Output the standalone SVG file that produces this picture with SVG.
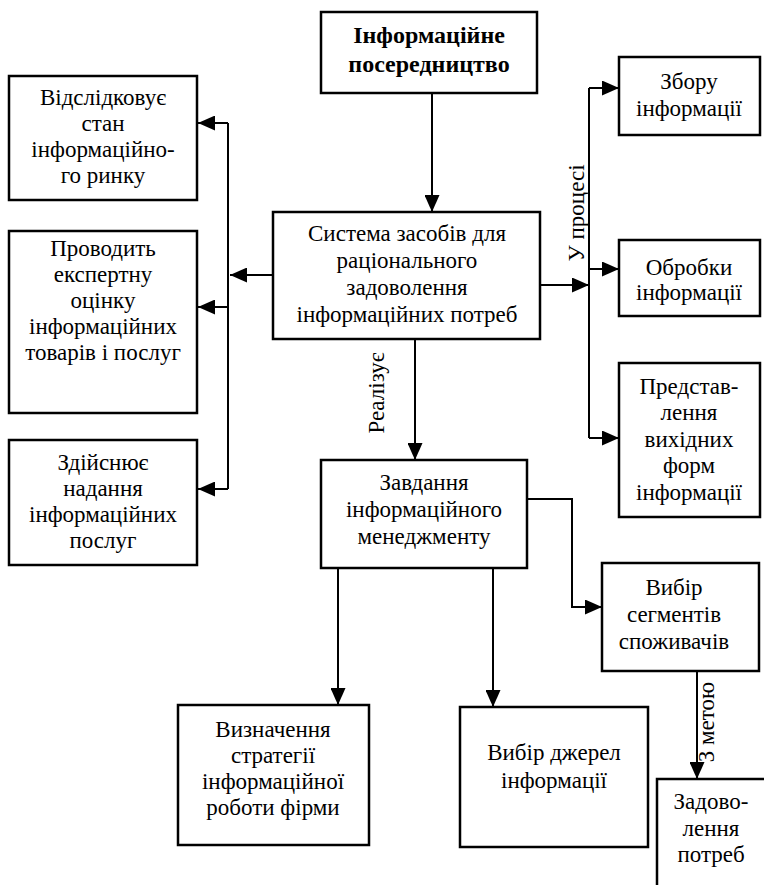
<svg xmlns="http://www.w3.org/2000/svg" width="764" height="885" viewBox="0 0 764 885">
<style>
.box{fill:#fff;stroke:#000;stroke-width:2.5}
.t{font-family:'Liberation Serif','DejaVu Serif',serif;font-size:23px;fill:#000;text-anchor:middle}
.b{font-weight:bold;font-size:24px}
.c{fill:none;stroke:#000;stroke-width:2}
</style>
<defs>
<marker id="ah" markerUnits="userSpaceOnUse" markerWidth="17" markerHeight="15" refX="17" refY="7.5" orient="auto">
<path d="M0,0 L17,7.5 L0,15 z" fill="#000"/>
</marker>
</defs>
<rect width="764" height="885" fill="#fff"/>
<g id="connectors">
<path class="c" d="M432,93 V212" marker-end="url(#ah)"/>
<path class="c" d="M273,275 H230" marker-end="url(#ah)"/>
<path class="c" d="M228,123 V489"/>
<path class="c" d="M228,123 H198" marker-end="url(#ah)"/>
<path class="c" d="M228,307 H198" marker-end="url(#ah)"/>
<path class="c" d="M228,489 H198" marker-end="url(#ah)"/>
<path class="c" d="M540,285 H589" marker-end="url(#ah)"/>
<path class="c" d="M589,88 V438"/>
<path class="c" d="M589,88 H619" marker-end="url(#ah)"/>
<path class="c" d="M589,269 H619" marker-end="url(#ah)"/>
<path class="c" d="M589,438 H619" marker-end="url(#ah)"/>
<path class="c" d="M415,339 V460" marker-end="url(#ah)"/>
<path class="c" d="M527,499 H572 V607 H602" marker-end="url(#ah)"/>
<path class="c" d="M338,568 V705" marker-end="url(#ah)"/>
<path class="c" d="M493,568 V707" marker-end="url(#ah)"/>
<path class="c" d="M697,671 V779" marker-end="url(#ah)"/>
<text class="t" transform="translate(584,213) rotate(-90)">У процесі</text>
<text class="t" transform="translate(384,393) rotate(-90)">Реалізує</text>
<text class="t" transform="translate(714,722) rotate(-90)">З метою</text>
</g>
<g id="n-top">
<rect class="box" x="321" y="12" width="216" height="81"/>
<text class="t b" x="429" y="43">Інформаційне</text>
<text class="t b" x="429" y="72">посередництво</text>
</g>
<g id="n-center">
<rect class="box" x="273" y="212" width="267" height="127"/>
<text class="t" x="407" y="241">Система засобів для</text>
<text class="t" x="407" y="268">раціонального</text>
<text class="t" x="407" y="295">задоволення</text>
<text class="t" x="407" y="322">інформаційних потреб</text>
</g>
<g id="n-left1">
<rect class="box" x="9" y="76" width="188" height="124"/>
<text class="t" x="103" y="105">Відслідковує</text>
<text class="t" x="103" y="131">стан</text>
<text class="t" x="103" y="157">інформаційно-</text>
<text class="t" x="103" y="183">го ринку</text>
</g>
<g id="n-left2">
<rect class="box" x="9" y="231" width="188" height="182"/>
<text class="t" x="103" y="256">Проводить</text>
<text class="t" x="103" y="282">експертну</text>
<text class="t" x="103" y="308">оцінку</text>
<text class="t" x="103" y="334">інформаційних</text>
<text class="t" x="103" y="360">товарів і послуг</text>
</g>
<g id="n-left3">
<rect class="box" x="9" y="440" width="188" height="125"/>
<text class="t" x="103" y="470">Здійснює</text>
<text class="t" x="103" y="496">надання</text>
<text class="t" x="103" y="522">інформаційних</text>
<text class="t" x="103" y="548">послуг</text>
</g>
<g id="n-zbor">
<rect class="box" x="619" y="57" width="141" height="78"/>
<text class="t" x="689" y="89">Збору</text>
<text class="t" x="689" y="116">інформації</text>
</g>
<g id="n-obrob">
<rect class="box" x="619" y="240" width="141" height="76"/>
<text class="t" x="689" y="275">Обробки</text>
<text class="t" x="689" y="300">інформації</text>
</g>
<g id="n-pred">
<rect class="box" x="619" y="363" width="141" height="154"/>
<text class="t" x="689" y="394">Представ-</text>
<text class="t" x="689" y="420">лення</text>
<text class="t" x="689" y="447">вихідних</text>
<text class="t" x="689" y="473">форм</text>
<text class="t" x="689" y="500">інформації</text>
</g>
<g id="n-zavd">
<rect class="box" x="321" y="460" width="206" height="108"/>
<text class="t" x="424" y="490">Завдання</text>
<text class="t" x="424" y="517">інформаційного</text>
<text class="t" x="424" y="544">менеджменту</text>
</g>
<g id="n-segm">
<rect class="box" x="602" y="563" width="157" height="108"/>
<text class="t" x="674" y="595">Вибір</text>
<text class="t" x="674" y="622">сегментів</text>
<text class="t" x="674" y="649">споживачів</text>
</g>
<g id="n-zadov">
<rect class="box" x="657" y="779" width="112" height="120"/>
<text class="t" x="711" y="809">Задово-</text>
<text class="t" x="711" y="836">лення</text>
<text class="t" x="711" y="862">потреб</text>
</g>
<g id="n-strat">
<rect class="box" x="178" y="705" width="191" height="140"/>
<text class="t" x="273" y="737">Визначення</text>
<text class="t" x="273" y="763">стратегії</text>
<text class="t" x="273" y="789">інформаційної</text>
<text class="t" x="273" y="815">роботи фірми</text>
</g>
<g id="n-dzher">
<rect class="box" x="460" y="707" width="188" height="140"/>
<text class="t" x="554" y="760">Вибір джерел</text>
<text class="t" x="554" y="788">інформації</text>
</g>
</svg>
